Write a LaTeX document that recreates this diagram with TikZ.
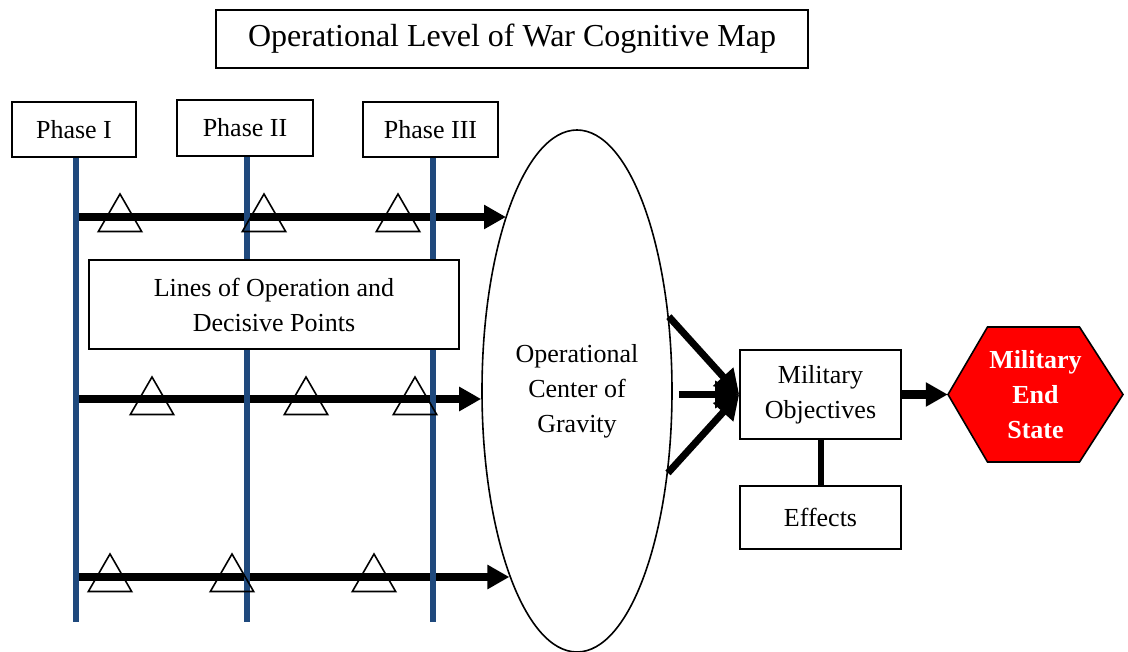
\documentclass[tikz,border=0pt]{standalone}
\usepackage{fontspec}
\setmainfont{Liberation Serif}
\usetikzlibrary{arrows.meta,shapes.geometric,calc}
\definecolor{phaseblue}{RGB}{31,73,125}
\begin{document}
\begin{tikzpicture}[x=1pt,y=-1pt,
    font=\fontsize{26}{35}\selectfont,
    box/.style={draw,fill=white,line width=1.6pt,align=center,inner sep=0pt},
    phaseline/.style={phaseblue,line width=6pt},
    lineop/.style={line width=8.5pt,-{Triangle[length=22pt,width=23pt]}},
    feed/.style={line width=7pt,-{Triangle[length=24pt,width=26pt]}},
    dp/.style={draw,line width=1.6pt,regular polygon,regular polygon sides=3,minimum size=50pt,inner sep=0pt}]
  \useasboundingbox (0,0) rectangle (1128,652);
  \node[box,minimum width=592pt,minimum height=58pt,font=\fontsize{32}{38}\selectfont] (title) at (512,39) {Operational Level of War Cognitive Map};
  \node[box,minimum width=124pt,minimum height=55pt] (ph1) at (74,129.5) {Phase I};
  \node[box,minimum width=136pt,minimum height=56pt] (ph2) at (245,128) {Phase II};
  \node[box,minimum width=135pt,minimum height=55pt] (ph3) at (430.5,129.5) {Phase III};
  \node[draw,ellipse,line width=1.6pt,inner sep=0pt,minimum width=190pt,minimum height=522pt,align=center] (cog) at (577,391) {Operational\\Center of\\Gravity};
  \node[box,minimum width=161pt,minimum height=89pt] (mo) at (820.5,394.5) {Military\\Objectives};
  \node[box,minimum width=161pt,minimum height=63pt] (eff) at (820.5,517.5) {Effects};
  \coordinate (hc) at (1035.5,394.5);
  \draw[line width=1.6pt,fill=red] ($(hc)+(-87.5,0)$) -- ($(hc)+(-48,-67.5)$) -- ($(hc)+(44,-67.5)$)
    -- ($(hc)+(87.5,0)$) -- ($(hc)+(44,67.5)$) -- ($(hc)+(-48,67.5)$) -- cycle;
  \node[minimum width=175pt,minimum height=135pt,inner sep=0pt,align=center,text=white,font=\bfseries\fontsize{26}{35}\selectfont] (end) at (hc) {Military\\End\\State};
  % lines of operation
  \coordinate (s1) at (75.5,217);
  \coordinate (s2) at (75.5,399);
  \coordinate (s3) at (75.5,577);
  \draw[lineop] (s1) -- (s1 -| cog.112);
  \draw[lineop] (s2) -- (s2 -| cog.west);
  \draw[lineop] (s3) -- (s3 -| cog.250);
  % phases
  \coordinate (b1) at (75.5,622);
  \coordinate (b2) at (247,622);
  \coordinate (b3) at (433,622);
  \draw[phaseline] (b1 |- ph1.south) -- (b1);
  \draw[phaseline] (b2 |- ph2.south) -- (b2);
  \draw[phaseline] (b3 |- ph3.south) -- (b3);
  \node[box,minimum width=370pt,minimum height=89pt] (loo) at (274,304.5) {Lines of Operation and\\Decisive Points};
  % decisive points
  \node[dp] (d11) at (120,219) {};
  \node[dp] (d12) at (264,219) {};
  \node[dp] (d13) at (398,219) {};
  \node[dp] (d21) at (152,402) {};
  \node[dp] (d22) at (306,402) {};
  \node[dp] (d23) at (415,402) {};
  \node[dp] (d31) at (110,579) {};
  \node[dp] (d32) at (232,579) {};
  \node[dp] (d33) at (374,579) {};
  \draw[feed] (cog.39) -- (mo.west);
  \draw[feed] ($(mo.west -| cog.east)+(6,0)$) -- (mo.west);
  \draw[feed] (cog.-42) -- (mo.west);
  \draw[line width=6pt] (mo.south) -- (eff.north);
  \draw[lineop] (mo.east) -- (end.west);
\end{tikzpicture}
\end{document}
